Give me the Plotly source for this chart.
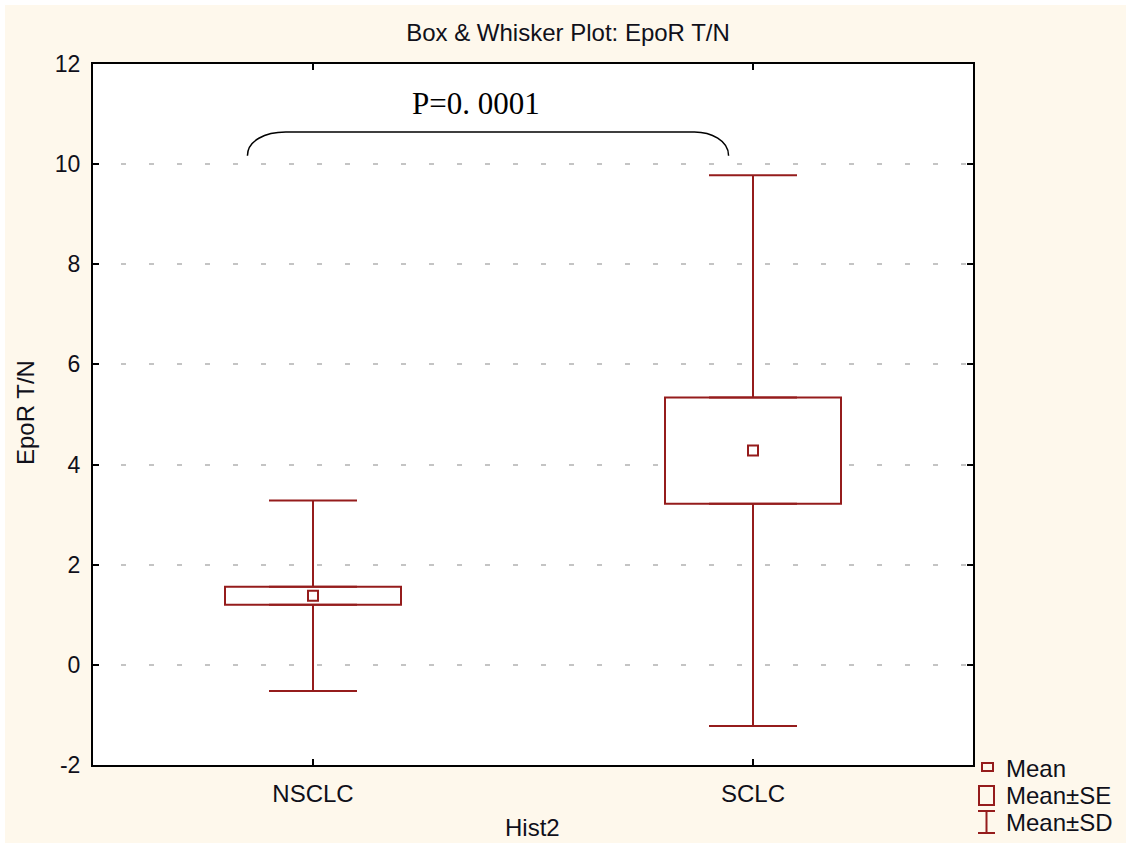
import plotly.graph_objects as go

# --- data -------------------------------------------------------------
categories = ["NSCLC", "SCLC"]
means = [1.38, 4.28]
se = [0.18, 1.06]
sd = [1.90, 5.50]
y_ticks = [-2, 0, 2, 4, 6, 8, 10, 12]
p_value_text = "P=0. 0001"

# --- styling ---------------------------------------------------------
RED = "#951c1c"
INK = "#10101a"
CREAM = "#fef8ec"
SANS = "Liberation Sans, Arial, sans-serif"
SERIF = "Liberation Serif, Times New Roman, serif"
FS = 24
TICK_FS = 23

FIG_W, FIG_H = 1126, 845
L, R, T, Bm = 93, 153, 64, 80
W = FIG_W - L - R
H = FIG_H - T - Bm
B = T + H


def px_x(p):
    return (p - L) / W


def px_y(p):
    return (B - p) / H


xpos = list(range(len(categories)))
q1 = [m - s for m, s in zip(means, se)]
q3 = [m + s for m, s in zip(means, se)]
box_h = [2 * s for s in se]
whisk = [d - s for d, s in zip(sd, se)]
zeros = [0] * len(categories)

fig = go.Figure()

# Mean±SE box
fig.add_trace(go.Bar(
    x=xpos, y=box_h, base=q1, width=0.4,
    marker=dict(color="white", line=dict(color=RED, width=2)),
    showlegend=False, hoverinfo="skip",
))

# Mean±SD whiskers, drawn outward from the box edges
fig.add_trace(go.Scatter(
    x=xpos, y=q3, mode="markers",
    marker=dict(size=1, color="rgba(0,0,0,0)"),
    error_y=dict(type="data", array=whisk, arrayminus=zeros,
                 color=RED, thickness=2, width=44),
    showlegend=False, hoverinfo="skip",
))
fig.add_trace(go.Scatter(
    x=xpos, y=q1, mode="markers",
    marker=dict(size=1, color="rgba(0,0,0,0)"),
    error_y=dict(type="data", array=zeros, arrayminus=whisk,
                 color=RED, thickness=2, width=44),
    showlegend=False, hoverinfo="skip",
))

# Mean markers
fig.add_trace(go.Scatter(
    x=xpos, y=means, mode="markers",
    marker=dict(symbol="square", size=10, color="white",
                line=dict(color=RED, width=2)),
    showlegend=False, hoverinfo="skip",
))

shapes = []
# white margins around the cream page
for x0, y0, x1, y1 in [(0, 0, FIG_W, 5), (0, 0, 5, FIG_H), (0, 843, FIG_W, FIG_H)]:
    shapes.append(dict(type="rect", xref="paper", yref="paper",
                       x0=px_x(x0), x1=px_x(x1), y0=px_y(y0), y1=px_y(y1),
                       fillcolor="white", line=dict(width=0), layer="below"))

# significance brace between the two groups
bx0, bx1 = -0.149, 0.9445
bf0, bf1 = -0.062, 0.867
by_end, by_top = 10.17, 10.64
shapes.append(dict(
    type="path", xref="x", yref="y",
    path=(f"M {bx0},{by_end} C {bx0},{by_top - 0.17} {bx0 + 0.04},{by_top} {bf0},{by_top} "
          f"L {bf1},{by_top} C {bx1 - 0.04},{by_top} {bx1},{by_top - 0.17} {bx1},{by_end}"),
    line=dict(color="black", width=1.5),
))

# legend symbols
shapes.append(dict(type="rect", xref="paper", yref="paper",
                   x0=px_x(982), x1=px_x(993), y0=px_y(771), y1=px_y(763),
                   line=dict(color=RED, width=2), fillcolor="rgba(0,0,0,0)"))
shapes.append(dict(type="rect", xref="paper", yref="paper",
                   x0=px_x(979), x1=px_x(994), y0=px_y(805), y1=px_y(786),
                   line=dict(color=RED, width=2), fillcolor="rgba(0,0,0,0)"))
for (x0, y0, x1, y1) in [(986.5, 811, 986.5, 833), (978, 811, 995, 811), (978, 833, 995, 833)]:
    shapes.append(dict(type="line", xref="paper", yref="paper",
                       x0=px_x(x0), x1=px_x(x1), y0=px_y(y0), y1=px_y(y1),
                       line=dict(color=RED, width=2)))

annotations = [
    dict(text=p_value_text, x=0.37, y=11.21, xref="x", yref="y",
         showarrow=False, font=dict(family=SERIF, size=31, color="black")),
]
for label, ypx in [("Mean", 768), ("Mean±SE", 795), ("Mean±SD", 822)]:
    annotations.append(dict(text=label, x=px_x(1004), y=px_y(ypx), xref="paper", yref="paper",
                            xanchor="left", yanchor="middle", showarrow=False,
                            font=dict(family=SANS, size=FS, color=INK)))
annotations.append(dict(text="Hist2", x=px_x(532), y=px_y(827), xref="paper", yref="paper",
                        xanchor="center", yanchor="middle", showarrow=False,
                        font=dict(family=SANS, size=FS, color=INK)))
annotations.append(dict(text="EpoR T/N", x=px_x(25), y=px_y(413), xref="paper", yref="paper",
                        xanchor="center", yanchor="middle", textangle=-90, showarrow=False,
                        font=dict(family=SANS, size=FS, color=INK)))

fig.update_layout(
    width=FIG_W, height=FIG_H,
    margin=dict(l=L, r=R, t=T, b=Bm),
    paper_bgcolor=CREAM, plot_bgcolor="white",
    title=dict(text="Box & Whisker Plot: EpoR T/N", x=568 / FIG_W, xanchor="center",
               y=1 - 33 / FIG_H, yanchor="middle", yref="container",
               font=dict(family=SANS, size=FS, color=INK)),
    shapes=shapes, annotations=annotations,
    showlegend=False, barmode="overlay",
    xaxis=dict(range=[-0.5, 1.5], tickvals=xpos, ticktext=categories,
               ticks="inside", ticklen=6, tickwidth=2, tickcolor="black",
               showline=True, linecolor="black", linewidth=2, mirror="ticks",
               showgrid=False, zeroline=False, ticklabelstandoff=6,
               tickfont=dict(family=SANS, size=FS, color=INK)),
    yaxis=dict(range=[-2, 12], tickvals=y_ticks, ticktext=[str(v) for v in y_ticks],
               ticks="inside", ticklen=6, tickwidth=2, tickcolor="black",
               showline=True, linecolor="black", linewidth=2, mirror="ticks",
               showgrid=True, gridcolor="#c4c4c4", gridwidth=1.5, griddash="5px,23px",
               zeroline=False, ticklabelstandoff=6,
               tickfont=dict(family=SANS, size=TICK_FS, color=INK)),
)

fig.write_html("out.html")
